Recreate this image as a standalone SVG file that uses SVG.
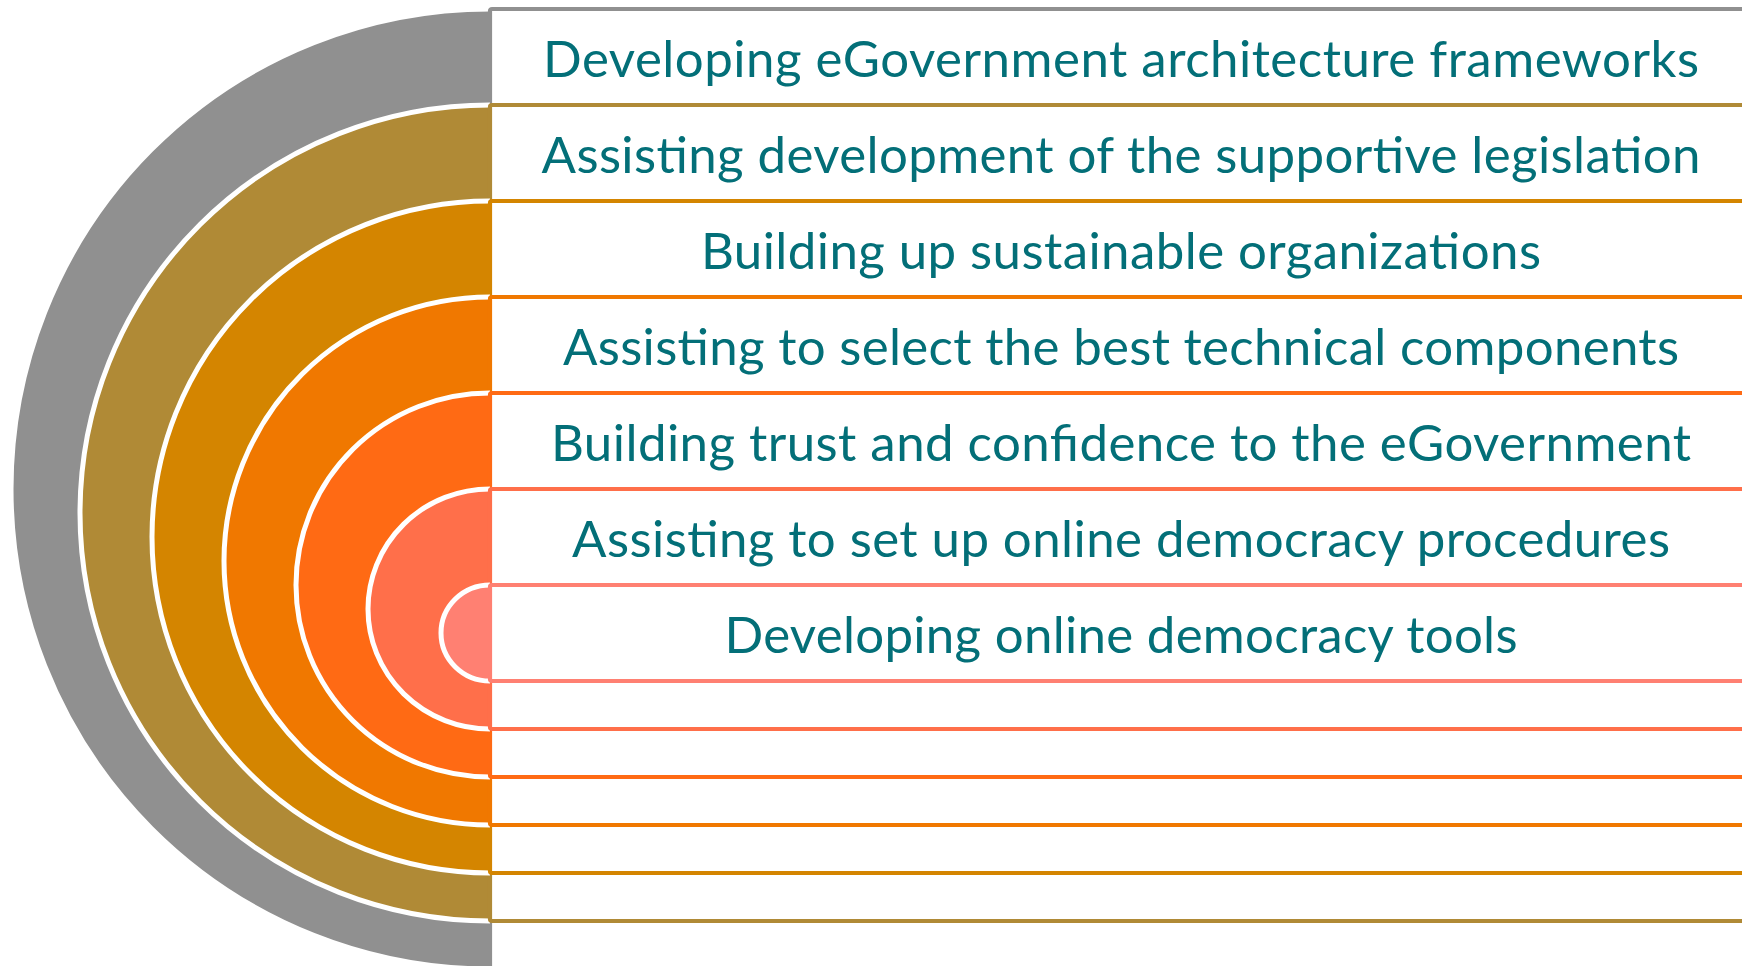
<svg xmlns="http://www.w3.org/2000/svg" width="1742" height="966" viewBox="0 0 1742 966">
<style>
.disc{stroke:#ffffff;stroke-width:5}
.box{fill:#ffffff;stroke-width:4.2}
.lbl{font-family:"Lato","Liberation Sans",sans-serif;font-size:51px;fill:#036F78;text-anchor:middle}
</style>
<rect width="1742" height="966" fill="#ffffff"/>
<g id="n1">
<path class="disc" fill="#909090" d="M490,9 A479,480 0 0 0 490,969"/>
<rect class="box" stroke="#909090" x="490" y="9" width="1300" height="960" rx="2"/>
<text class="lbl" x="1121" y="77" textLength="1156">Developing eGovernment architecture frameworks</text>
</g>
<g id="n2">
<path class="disc" fill="#B08A36" d="M490,105 A410,408 0 0 0 490,921"/>
<rect class="box" stroke="#B08A36" x="490" y="105" width="1300" height="816" rx="2"/>
<text class="lbl" x="1121" y="173" textLength="1159">Assisting development of the supportive legislation</text>
</g>
<g id="n3">
<path class="disc" fill="#D48500" d="M490,201 A338,336 0 0 0 490,873"/>
<rect class="box" stroke="#D48500" x="490" y="201" width="1300" height="672" rx="2"/>
<text class="lbl" x="1121" y="269" textLength="840">Building up sustainable organizations</text>
</g>
<g id="n4">
<path class="disc" fill="#F07800" d="M490,297 A266,264 0 0 0 490,825"/>
<rect class="box" stroke="#F07800" x="490" y="297" width="1300" height="528" rx="2"/>
<text class="lbl" x="1121" y="365" textLength="1116">Assisting to select the best technical components</text>
</g>
<g id="n5">
<path class="disc" fill="#FF6A14" d="M490,393 A194,192 0 0 0 490,777"/>
<rect class="box" stroke="#FF6A14" x="490" y="393" width="1300" height="384" rx="2"/>
<text class="lbl" x="1121" y="461" textLength="1140">Building trust and confidence to the eGovernment</text>
</g>
<g id="n6">
<path class="disc" fill="#FF6F4A" d="M490,489 A122,120 0 0 0 490,729"/>
<rect class="box" stroke="#FF6F4A" x="490" y="489" width="1300" height="240" rx="2"/>
<text class="lbl" x="1121" y="557" textLength="1098">Assisting to set up online democracy procedures</text>
</g>
<g id="n7">
<path class="disc" fill="#FF8072" d="M490,585 A49,48 0 0 0 490,681"/>
<rect class="box" stroke="#FF8072" x="490" y="585" width="1300" height="96" rx="2"/>
<text class="lbl" x="1121" y="653" textLength="793">Developing online democracy tools</text>
</g>
<g id="connectors"/>
</svg>
